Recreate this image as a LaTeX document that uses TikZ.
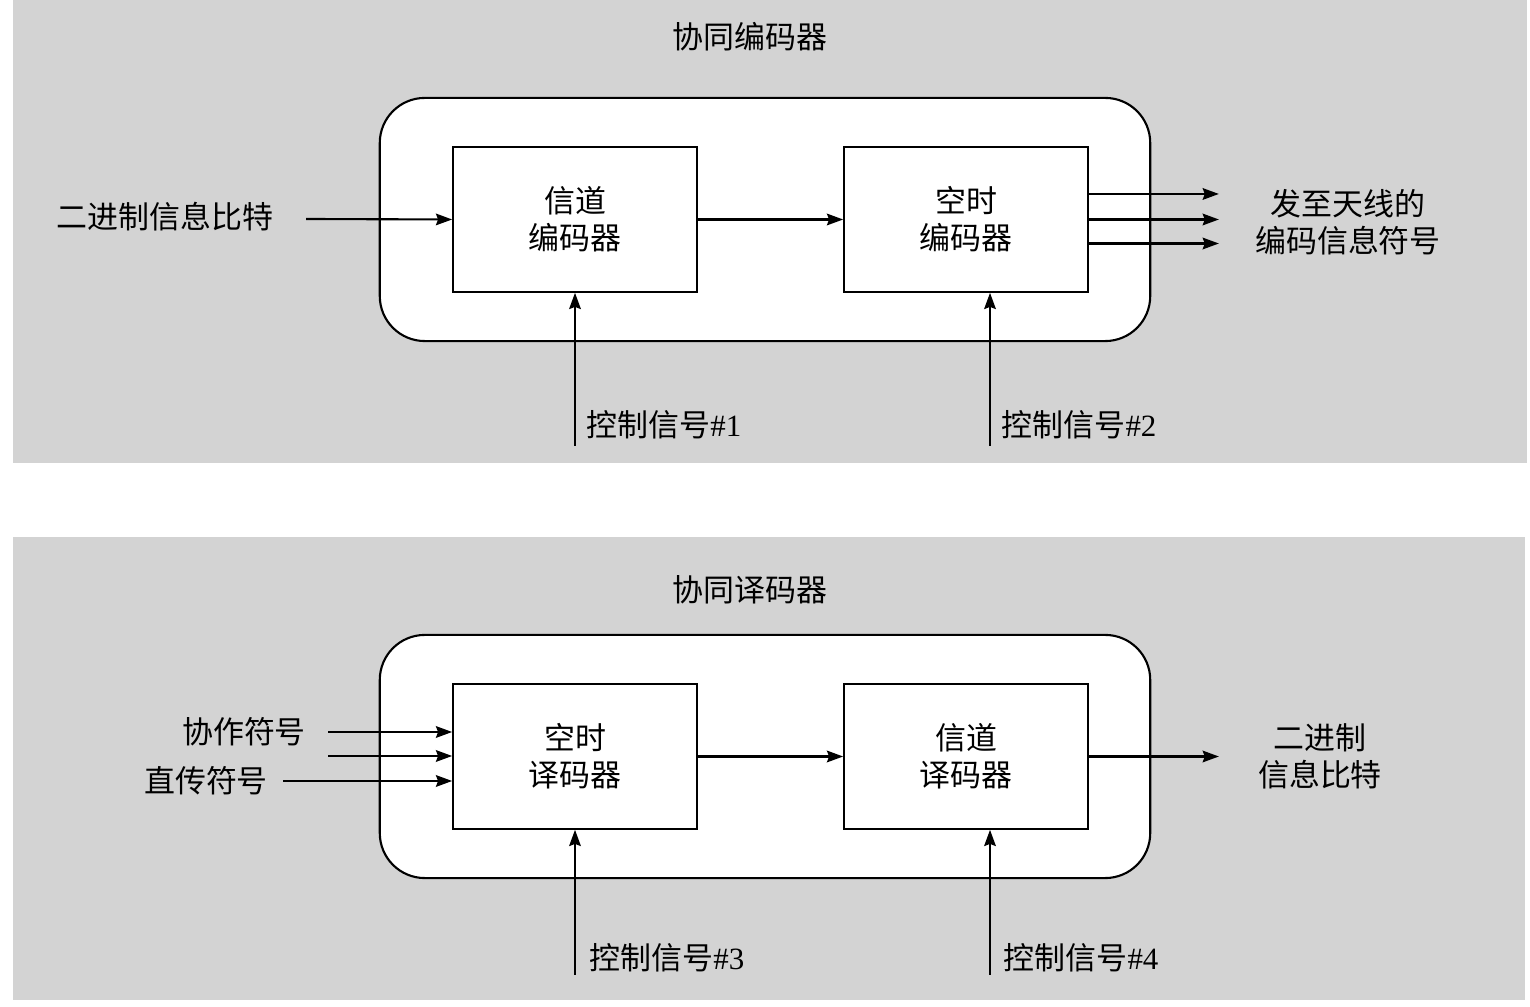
\documentclass[tikz,border=0pt]{standalone}
\usepackage{fontspec}
\setmainfont{Liberation Serif}
\newfontfamily\cjk{Noto Sans CJK SC}
\usepackage{tikz}
\usetikzlibrary{arrows.meta,positioning,calc}
\definecolor{panelgray}{HTML}{D3D3D3}

\begin{document}
\begin{tikzpicture}[x=0.01cm,y=-0.01cm,
    font=\fontsize{8.8pt}{10.5pt}\selectfont\cjk,
    blk/.style={draw,line width=0.45pt,fill=white,minimum width=2.44cm,
                minimum height=1.45cm,align=center,inner sep=0pt},
    outerbox/.style={draw,line width=0.6pt,fill=white,rounded corners=0.45cm,
                     minimum width=7.7cm,minimum height=2.43cm},
    lbl/.style={inner sep=0pt,align=center},
    arr/.style={line width=0.6pt,-{Stealth[length=4.6pt,width=3.3pt,inset=0.6pt]}}]
  \useasboundingbox (0,0) rectangle (1530,1007);
  % Gray panels
  \fill[panelgray] (13,0) rectangle (1527,463);
  \fill[panelgray] (13,537) rectangle (1525,1000);

  % ---- Encoder ----
  \node[lbl] (enctitle) at (750,37) {协同编码器};
  \node[outerbox] (encbox) at (765,219.5) {};
  \node[blk] (chenc) at (575,219.5) {信道\\编码器};
  \node[blk] (stenc) at (966,219.5) {空时\\编码器};
  % Input
  \node[lbl] (bitsin) at (165,217) {二进制信息比特};
  \coordinate (in1) at (306,219);
  \draw[arr] (in1) -- (chenc.west);
  \draw[arr] (chenc.east) -- (stenc.west);
  % Outputs to antennas
  \foreach \dy in {0.255,0,-0.24}
    \draw[arr] ([yshift=\dy cm]stenc.east) -- +(130,0);
  \node[lbl] (symout) at (1348,222) {发至天线的\\编码信息符号};
  % Control signals
  \coordinate (ctl1) at (575,446);
  \coordinate (ctl2) at (990,446);
  \draw[arr] (ctl1) -- (chenc.south);
  \draw[arr] (ctl2) -- (ctl2 |- stenc.south);
  \node[lbl,anchor=west] (ctllbl1) at (586,425) {控制信号{\rmfamily\#1}};
  \node[lbl,anchor=west] (ctllbl2) at (1001,425) {控制信号{\rmfamily\#2}};

  % ---- Decoder ----
  \node[lbl] (dectitle) at (750,590) {协同译码器};
  \node[outerbox] (decbox) at (765,756.5) {};
  \node[blk] (stdec) at (575,756.5) {空时\\译码器};
  \node[blk] (chdec) at (966,756.5) {信道\\译码器};
  % Inputs
  \node[lbl] (coopsym) at (244,732) {协作符号};
  \node[lbl] (directsym) at (206,781) {直传符号};
  \coordinate (in2) at (328,732);
  \coordinate (in3) at (328,756);
  \coordinate (in4) at (283,781);
  \draw[arr] (in2) -- (in2 -| stdec.west);
  \draw[arr] (in3) -- (in3 -| stdec.west);
  \draw[arr] (in4) -- (in4 -| stdec.west);
  \draw[arr] (stdec.east) -- (chdec.west);
  % Output
  \draw[arr] (chdec.east) -- +(130,0);
  \node[lbl] (bitsout) at (1320,756) {二进制\\信息比特};
  % Control signals
  \coordinate (ctl3) at (575,975);
  \coordinate (ctl4) at (990,975);
  \draw[arr] (ctl3) -- (stdec.south);
  \draw[arr] (ctl4) -- (ctl4 |- chdec.south);
  \node[lbl,anchor=west] (ctllbl3) at (589,958) {控制信号{\rmfamily\#3}};
  \node[lbl,anchor=west] (ctllbl4) at (1003,958) {控制信号{\rmfamily\#4}};
\end{tikzpicture}
\end{document}
